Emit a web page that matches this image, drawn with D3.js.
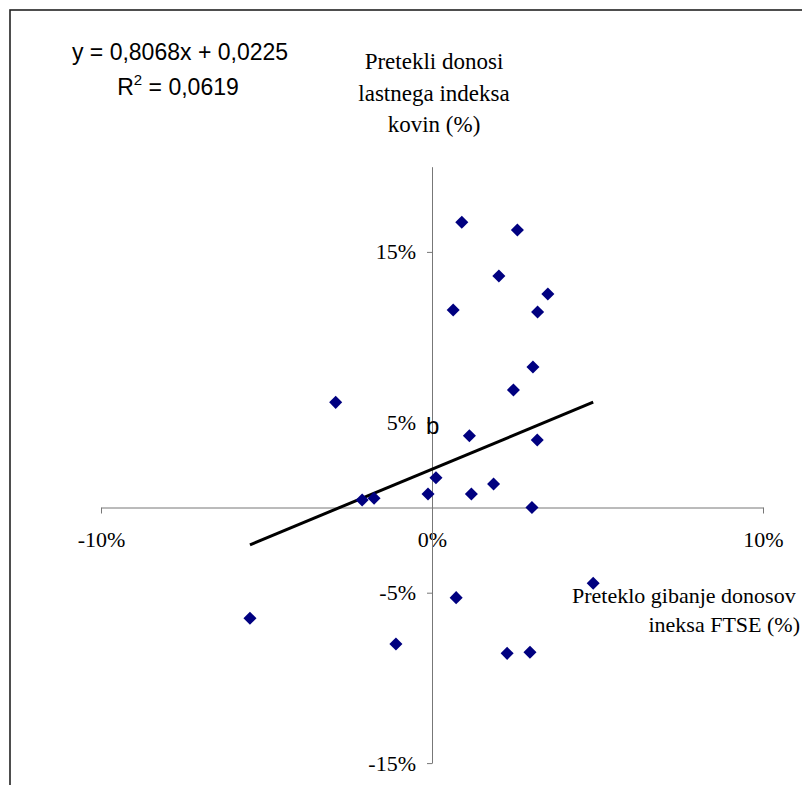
<!DOCTYPE html>
<html>
<head>
<meta charset="utf-8">
<script src="https://cdn.jsdelivr.net/npm/d3@7"></script>
<style>
  body { margin: 0; background: #fff; }
  svg { display: block; }
  .tick text { font-family: "Liberation Serif", "Times New Roman", serif; font-size: 22px; fill: #000; }
  .axis path, .axis line { stroke: #777; stroke-width: 1; }
</style>
</head>
<body>
<svg id="chart"></svg>
<script>
// Past FTSE returns (%) and past returns of own metals index (%)
const ftseReturns = [0.90, 2.58, 2.02, 3.50, 0.64, 3.19, 3.05, 2.46, -2.91, 1.13, 3.18, 0.12,
  1.86, -2.11, -1.75, -0.12, 1.19, 3.02, 4.87, 0.73, -5.50, -1.09, 2.27, 2.96];
const metalReturns = [16.74, 16.28, 13.59, 12.53, 11.59, 11.47, 8.25, 6.90, 6.17, 4.21, 3.96, 1.75,
  1.38, 0.44, 0.54, 0.79, 0.79, 0.00, -4.45, -5.29, -6.50, -8.01, -8.56, -8.50];

const xTicks = [-10, 0, 10];
const yTicks = [-15, -5, 5, 15];

const slope = 0.8068;
const intercept = 0.0225;
const equationText = 'y = 0,8068x + 0,0225';
const r2Value = '0,0619';

const yTitle = ['Pretekli donosi', 'lastnega indeksa', 'kovin (%)'];
const xTitle = ['Preteklo gibanje donosov', 'ineksa FTSE (%)'];

const width = 802;
const height = 785;

const svg = d3.select('#chart').attr('width', width).attr('height', height);

// Chart frame (runs off the right and bottom edge).
svg.append('rect')
    .attr('x', 10).attr('y', 10)
    .attr('width', 900).attr('height', 900)
    .attr('fill', '#fff')
    .attr('stroke', '#222')
    .attr('stroke-width', 1.6);

const xScale = d3.scaleLinear().domain([-10, 10]).range([101, 763]);
const yScale = d3.scaleLinear().domain([-15, 20]).range([763.1, 166.7]);

const pct = d => d + '%';

// Axes cross at zero.
svg.append('g')
    .attr('class', 'axis x')
    .attr('transform', `translate(0, ${yScale(0)})`)
    .call(d3.axisBottom(xScale).tickValues(xTicks).tickFormat(pct)
        .tickSize(6).tickSizeOuter(0).tickPadding(18));

svg.append('g')
    .attr('class', 'axis y')
    .attr('transform', `translate(${xScale(0)}, 0)`)
    .call(d3.axisLeft(yScale).tickValues(yTicks).tickFormat(pct)
        .tickSize(5).tickSizeOuter(0).tickPadding(11));

// Trend line over the data range.
const xExtent = d3.extent(ftseReturns);
svg.append('path')
    .datum(xExtent)
    .attr('fill', 'none')
    .attr('stroke', '#000')
    .attr('stroke-width', 3)
    .attr('d', d3.line()
        .x(d => xScale(d))
        .y(d => yScale((slope * d / 100 + intercept) * 100)));

// Points.
const diamond = d3.symbol().type(d3.symbolSquare).size(85);
svg.append('g')
    .selectAll('path')
    .data(ftseReturns)
    .join('path')
    .attr('d', diamond)
    .attr('fill', '#000080')
    .attr('transform', (d, i) =>
        `translate(${xScale(d)}, ${yScale(metalReturns[i])}) rotate(45)`);

// Equation.
const eq = svg.append('g')
    .attr('font-family', 'Liberation Sans, Arial, sans-serif')
    .attr('font-size', 23)
    .attr('text-anchor', 'middle');
eq.append('text')
    .attr('x', 180).attr('y', 60)
    .text(equationText);
const r2 = eq.append('text').attr('x', 178).attr('y', 95);
r2.append('tspan').text('R');
r2.append('tspan').attr('font-size', 15).attr('dy', -10).text('2');
r2.append('tspan').attr('dy', 10).text(' = ' + r2Value);

// Axis titles.
svg.append('g')
    .attr('font-family', 'Liberation Serif, Times New Roman, serif')
    .attr('font-size', 23)
    .attr('text-anchor', 'middle')
    .selectAll('text')
    .data(yTitle)
    .join('text')
    .attr('x', 434)
    .attr('y', (d, i) => 69 + i * 31.5)
    .text(d => d);

const xt = svg.append('g')
    .attr('font-family', 'Liberation Serif, Times New Roman, serif')
    .attr('font-size', 22);
xt.append('text').attr('x', 572).attr('y', 603).text(xTitle[0]);
xt.append('text').attr('x', 800).attr('y', 632).attr('text-anchor', 'end').text(xTitle[1]);

// Panel label.
svg.append('text')
    .attr('x', 426).attr('y', 434)
    .attr('font-family', 'Liberation Sans, Arial, sans-serif')
    .attr('font-size', 24)
    .text('b');
</script>
</body>
</html>
